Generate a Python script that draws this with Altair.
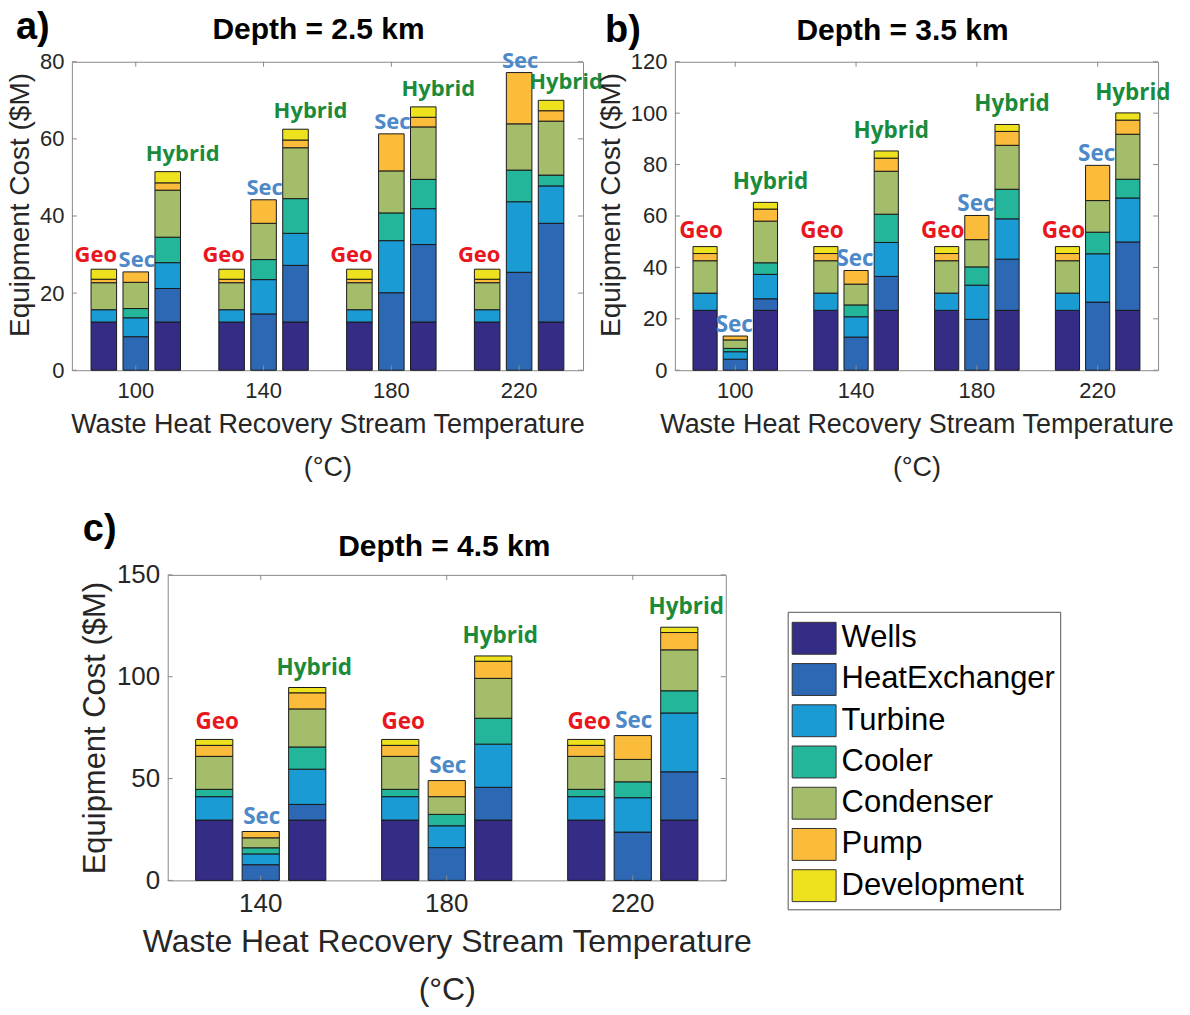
import altair as alt
import pandas as pd

components = ["Wells", "HeatExchanger", "Turbine", "Cooler", "Condenser", "Pump", "Development"]
comp_colors = ["#352c85", "#2c68b4", "#1b9bd4", "#24b69a", "#a4bd6a", "#fbbc3c", "#eee21e"]
schemes = ["Geo", "Sec", "Hybrid"]
scheme_colors = ["#e8161e", "#4d89c9", "#1a8b3b"]

# ---- Panel a: depth 2.5 km (bars per temperature: Geo, Sec, Hybrid)
temps_a = ["100", "140", "180", "220"]
ticks_a = [0, 20, 40, 60, 80]
a_wells = [12.5, 0, 12.5, 12.5, 0, 12.5, 12.5, 0, 12.5, 12.5, 0, 12.5]
a_hx = [0, 8.7, 8.7, 0, 14.6, 14.7, 0, 20.1, 20.1, 0, 25.4, 25.6]
a_turbine = [3.2, 4.9, 6.7, 3.2, 8.9, 8.3, 3.2, 13.5, 9.3, 3.2, 18.3, 9.7]
a_cooler = [0, 2.4, 6.6, 0, 5.2, 9.0, 0, 7.2, 7.6, 0, 8.2, 2.8]
a_condenser = [7.0, 6.8, 12.2, 7.0, 9.4, 13.2, 7.0, 10.9, 13.6, 7.0, 12.0, 14.0]
a_pump = [0.9, 2.7, 1.9, 0.9, 6.1, 2.0, 0.9, 9.6, 2.5, 0.9, 13.3, 2.7]
a_dev = [2.6, 0, 2.9, 2.6, 0, 2.8, 2.6, 0, 2.7, 2.6, 0, 2.7]

# ---- Panel b: depth 3.5 km
temps_b = ["100", "140", "180", "220"]
ticks_b = [0, 20, 40, 60, 80, 100, 120]
b_wells = [23.3, 0, 23.3, 23.3, 0, 23.3, 23.3, 0, 23.3, 23.3, 0, 23.3]
b_hx = [0, 4.3, 4.5, 0, 12.9, 13.2, 0, 19.8, 19.9, 0, 26.5, 26.6]
b_turbine = [6.7, 2.9, 9.5, 6.7, 7.9, 13.2, 6.7, 13.3, 15.7, 6.7, 18.8, 17.1]
b_cooler = [0, 1.3, 4.5, 0, 4.6, 11.0, 0, 7.1, 11.5, 0, 8.4, 7.3]
b_condenser = [12.6, 3.3, 16.2, 12.6, 8.1, 16.7, 12.6, 10.6, 17.1, 12.6, 12.3, 17.5]
b_pump = [2.8, 1.5, 4.7, 2.8, 5.3, 5.1, 2.8, 9.4, 5.4, 2.8, 13.7, 5.5]
b_dev = [2.7, 0, 2.6, 2.7, 0, 2.8, 2.7, 0, 2.7, 2.7, 0, 2.8]

# ---- Panel c: depth 4.5 km
temps_c = ["140", "180", "220"]
ticks_c = [0, 50, 100, 150]
c_wells = [29.6, 0, 29.6, 29.6, 0, 29.6, 29.6, 0, 29.6]
c_hx = [0, 7.7, 7.7, 0, 16.1, 16.1, 0, 23.7, 23.7]
c_turbine = [11.5, 5.3, 17.3, 11.5, 10.7, 21.2, 11.5, 16.9, 28.9]
c_cooler = [3.6, 3.0, 10.9, 3.6, 5.6, 12.7, 3.6, 7.8, 10.9]
c_condenser = [16.2, 4.9, 18.7, 16.2, 8.7, 19.6, 16.2, 11.0, 20.1]
c_pump = [5.4, 3.1, 7.9, 5.4, 7.9, 8.4, 5.4, 11.7, 8.5]
c_dev = [2.9, 0, 2.6, 2.9, 0, 2.6, 2.9, 0, 2.6]

y_title = "Equipment Cost ($M)"
x_title = ["Waste Heat Recovery Stream Temperature", "(°C)"]
frame_color = "#8a8a8a"


def build(temps, series):
    rows = []
    k = 0
    for t in temps:
        for s in schemes:
            for ci, comp in enumerate(components):
                v = series[ci][k]
                if v > 0:
                    rows.append({"temp": t, "scheme": s, "component": comp, "idx": ci, "value": v})
            k += 1
    return pd.DataFrame(rows)


legend = alt.Legend(
    orient="none", legendX=717, legendY=551, title=None, direction="vertical",
    symbolType="M-1.06,-0.77L1.06,-0.77L1.06,0.77L-1.06,0.77Z",
    symbolSize=1722, symbolStrokeColor="#333333", symbolStrokeWidth=1, symbolOpacity=1,
    labelFont="Liberation Sans", labelFontSize=31, labelColor="black", labelOffset=6,
    labelLimit=400, rowPadding=1.3, padding=5, strokeColor="#555555", fillColor="white",
)


def panel(df, temps, ymax, yvals, w, h, title, tx, ty, letter, lx, ly,
          ldx, ldy, lfs, tick_fs, ytitle_fs, ytitle_y, xtitle_fs, line_h, anchor=None):
    xscale = alt.Scale(domain=temps, paddingInner=0.25, paddingOuter=0.125)
    xoscale = alt.Scale(domain=schemes, paddingInner=0.2, paddingOuter=0.1)
    yscale = alt.Scale(domain=[0, ymax], nice=False, zero=True)
    xaxis = alt.Axis(title=x_title, labelAngle=0, labelFontSize=tick_fs, titleFontSize=xtitle_fs,
                     labelPadding=10, titlePadding=10, titleLineHeight=line_h)
    yaxis = alt.Axis(title=y_title, values=yvals, labelFontSize=tick_fs, titleFontSize=ytitle_fs,
                     labelPadding=8, titlePadding=5, titleY=ytitle_y)
    bars = alt.Chart(df).mark_bar(stroke="#1a1a1a", strokeWidth=1).encode(
        x=alt.X("temp:N", scale=xscale, axis=xaxis),
        xOffset=alt.XOffset("scheme:N", scale=xoscale),
        y=alt.Y("value:Q", scale=yscale, axis=yaxis, stack="zero"),
        color=alt.Color("component:N", scale=alt.Scale(domain=components, range=comp_colors), legend=legend),
        order=alt.Order("idx:Q", sort="ascending"),
    )
    layers = [bars]
    # inward tick marks (MATLAB box style)
    ydf = pd.DataFrame({"v": yvals})
    for x0, x1 in [(0, 5), (w - 5, w)]:
        layers.append(alt.Chart(ydf).mark_rule(color=frame_color, strokeWidth=1).encode(
            y=alt.Y("v:Q", scale=yscale, axis=yaxis), x=alt.value(x0), x2=alt.value(x1)))
    xdf = pd.DataFrame({"temp": temps})
    for y0, y1 in [(0, 5), (h - 5, h)]:
        layers.append(alt.Chart(xdf).mark_rule(color=frame_color, strokeWidth=1).encode(
            x=alt.X("temp:N", scale=xscale, axis=xaxis, bandPosition=0.5),
            y=alt.value(y0), y2=alt.value(y1)))
    for s, col, dx, dy in zip(schemes, scheme_colors, ldx, ldy):
        t = alt.Chart(df).transform_filter(alt.datum.scheme == s).transform_aggregate(
            total="sum(value)", groupby=["temp", "scheme"]
        ).mark_text(
            text=s, font="Open Sans", fontWeight="bold", fontSize=lfs, color=col,
            dx=dx, dy=dy, baseline="alphabetic", align="center"
        ).encode(
            x=alt.X("temp:N", scale=xscale, axis=xaxis),
            xOffset=alt.XOffset("scheme:N", scale=xoscale),
            y=alt.Y("total:Q", scale=yscale, axis=yaxis),
        )
        layers.append(t)
    lab = alt.Chart(pd.DataFrame({"lab": [letter]})).mark_text(
        align="left", baseline="alphabetic", font="Liberation Sans", fontSize=38,
        fontWeight="bold", color="black"
    ).encode(x=alt.value(lx), y=alt.value(ly), text="lab:N")
    layers.append(lab)
    ttl = alt.Chart(pd.DataFrame({"ttl": [title]})).mark_text(
        align="center", baseline="alphabetic", font="Liberation Sans", fontSize=30,
        fontWeight="bold", color="black"
    ).encode(x=alt.value(tx), y=alt.value(ty), text="ttl:N")
    layers.append(ttl)
    if anchor is not None:
        anc = alt.Chart(pd.DataFrame({"z": [0]})).mark_rule(strokeWidth=0, opacity=0).encode(
            x=alt.value(anchor[0]), x2=alt.value(anchor[0]),
            y=alt.value(anchor[1]), y2=alt.value(anchor[1]),
        )
        layers.append(anc)
    return alt.layer(*layers).properties(width=w, height=h)


df_a = build(temps_a, [a_wells, a_hx, a_turbine, a_cooler, a_condenser, a_pump, a_dev])
df_b = build(temps_b, [b_wells, b_hx, b_turbine, b_cooler, b_condenser, b_pump, b_dev])
df_c = build(temps_c, [c_wells, c_hx, c_turbine, c_cooler, c_condenser, c_pump, c_dev])

pa = panel(df_a, temps_a, 80, ticks_a, 512, 309, "Depth = 2.5 km", 247, -23,
           "a)", -56, -23, [-8, 1, 15], [-7, -5, -11], 22, 22, 28, 143, 27, 43,
           anchor=(-71, -60))
pb = panel(df_b, temps_b, 120, ticks_b, 484, 309, "Depth = 3.5 km", 228, -22,
           "b)", -70, -20, [-4, -1, 5], [-9, -4, -13], 22.5, 22, 28, 143, 27, 43)
pc = panel(df_c, temps_c, 150, ticks_c, 559, 306, "Depth = 4.5 km", 277, -19,
           "c)", -85, -34, [3, 1, 7], [-10, -8, -13], 22.5, 26, 31, 153, 32, 48,
           anchor=(1023, 441))

spacer = alt.Chart(pd.DataFrame({"z": [0]})).mark_rule(strokeWidth=0, opacity=0).encode(
    x=alt.value(0), y=alt.value(0), y2=alt.value(1)
).properties(width=1, height=1, view=alt.ViewBackground(strokeOpacity=0))

top = alt.hconcat(pa, pb, spacing=92, bounds="flush").resolve_scale(xOffset="independent")
bottom = alt.hconcat(spacer, pc, spacing=95, bounds="flush").resolve_scale(xOffset="independent")

chart = alt.vconcat(top, bottom, spacing=29).resolve_scale(xOffset="independent").properties(
    padding=0, background="white"
).configure_view(
    stroke=frame_color, strokeWidth=1
).configure_axis(
    domain=False, ticks=False, grid=False, labelFont="Liberation Sans", titleFont="Liberation Sans",
    labelColor="#262626", titleColor="#262626", titleFontWeight="normal"
)

chart.save("out.html", embed_options={"renderer": "svg", "actions": False})
